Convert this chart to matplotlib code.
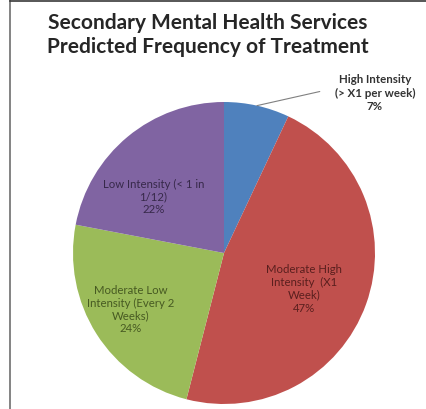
import matplotlib
matplotlib.use('Agg')
import matplotlib.pyplot as plt
from matplotlib.lines import Line2D
import numpy as np

# data
labels = ['High Intensity\n(> X1 per week)', 'Moderate High\nIntensity  (X1\nWeek)',
          'Moderate Low\nIntensity (Every 2\nWeeks)', 'Low Intensity (< 1 in\n1/12)']
values = [7, 47, 24, 22]
colors = ['#4F81BD', '#C0504D', '#9BBB59', '#8064A2']
text_colors = ['#333333', '#5A1F1E', '#475A22', '#37294A']

plt.rcParams['font.family'] = ['Lato', 'DejaVu Sans']

fig = plt.figure(figsize=(4.26, 4.10), dpi=100)
ax = fig.add_axes([0, 0, 1, 1])

cx, cy, R = 224, 156, 151
wedges, _ = ax.pie(values, colors=colors, startangle=90, counterclock=False,
                   center=(cx, cy), radius=R,
                   wedgeprops=dict(linewidth=0))
ax.set_xlim(0, 426)
ax.set_ylim(0, 410)
ax.set_aspect('equal')
ax.axis('off')

# label positions (polar: angle in deg, radius as fraction of R) - layout only
label_pos = [None, (-23.4, 0.58), (-149.2, 0.72), (141.0, 0.60)]

for i, w in enumerate(wedges):
    txt = f'{labels[i]}\n{values[i]}%'
    if i == 0:
        mid = np.deg2rad((w.theta1 + w.theta2) / 2)
        ex, ey = cx + R * np.cos(mid), cy + R * np.sin(mid)
        ax.annotate(txt, xy=(ex, ey), xytext=(375, 410 - 93),
                    ha='center', va='center', fontsize=8.3, fontweight='bold',
                    color=text_colors[i], linespacing=1.3,
                    arrowprops=dict(arrowstyle='-', color='#808080', lw=0.8,
                                    shrinkA=9, shrinkB=0,
                                    relpos=(0.0, 0.6)))
    else:
        ang, rf = label_pos[i]
        a = np.deg2rad(ang)
        ax.text(cx + rf * R * np.cos(a), cy + rf * R * np.sin(a), txt,
                ha='center', va='center', fontsize=8.2, color=text_colors[i],
                linespacing=1.2)

fig.text(208 / 426, 1 - 35 / 410,
         'Secondary Mental Health Services\nPredicted Frequency of Treatment',
         ha='center', va='center', fontsize=15, fontweight='bold',
         color='#262626', linespacing=1.2)

# chart frame lines (left and top)
fig.add_artist(Line2D([9.5 / 426, 9.5 / 426], [0, 1], color='#6E6E6E', lw=1.2,
                      transform=fig.transFigure))
fig.add_artist(Line2D([9.5 / 426, 1], [1 - 1.5 / 410, 1 - 1.5 / 410], color='#3A3A3A',
                      lw=1.2, transform=fig.transFigure))

fig.savefig('out.png', dpi=100)
